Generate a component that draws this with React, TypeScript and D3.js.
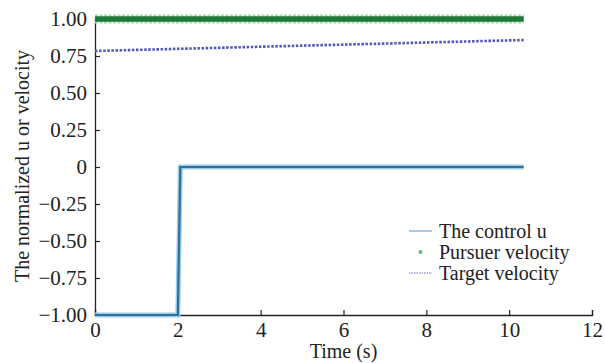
import { useEffect, useRef } from "react";
import * as d3 from "d3";

// control u: bang from -1 to 0 at about t = 2 s
const controlTime = [0, 2.0, 2.06, 10.35];
const controlValue = [-1, -1, 0, 0];

// pursuer velocity stays at its max
const pursuerTime = [0, 10.35];
const pursuerValue = [1, 1];

// target velocity slowly rising
const targetTime = [0, 10.35];
const targetValue = [0.784, 0.858];

const xTicks = [0, 2, 4, 6, 8, 10, 12];
const yTicks = [-1, -0.75, -0.5, -0.25, 0, 0.25, 0.5, 0.75, 1];

const legendLabels = ["The control u", "Pursuer velocity", "Target velocity"];

export default function App() {
  const svgRef = useRef<SVGSVGElement>(null);

  useEffect(() => {
    const svg = d3.select(svgRef.current);
    svg.selectAll("*").remove();

    const margin = { top: 19, right: 13, bottom: 48, left: 95 };
    const width = 605 - margin.left - margin.right;
    const height = 363 - margin.top - margin.bottom;
    const font = "'Liberation Serif', 'Times New Roman', serif";

    const g = svg
      .append("g")
      .attr("transform", `translate(${margin.left},${margin.top})`);

    const x = d3.scaleLinear().domain([0, 12]).range([0, width]);
    const y = d3.scaleLinear().domain([-1, 1]).range([height, 0]);

    const fmtY = (d: number) =>
      d === 0 ? "0" : d3.format(".2f")(d).replace("-", "\u2212");

    // axes
    const xAxis = g
      .append("g")
      .attr("transform", `translate(0,${height})`)
      .call(d3.axisBottom(x).tickValues(xTicks).tickSize(-5).tickPadding(9).tickFormat((d) => `${d}`));
    const yAxis = g
      .append("g")
      .call(d3.axisLeft(y).tickValues(yTicks).tickSize(-5).tickPadding(8).tickFormat((d) => fmtY(+d)));

    [xAxis, yAxis].forEach((a) => {
      a.attr("font-family", font);
      a.select(".domain").attr("stroke", "#222").attr("stroke-width", 1.3);
      a.selectAll(".tick line").attr("stroke", "#222").attr("stroke-width", 1.2);
      a.selectAll(".tick text")
        .attr("fill", "#222")
        .style("font-family", font)
        .style("font-size", "21px");
    });
    xAxis.selectAll(".tick text").attr("dy", "0.6em");

    // axis labels
    g.append("text")
      .attr("x", width / 2)
      .attr("y", height + 43)
      .attr("text-anchor", "middle")
      .attr("fill", "#222")
      .style("font-family", font)
      .style("font-size", "20px")
      .text("Time (s)");

    g.append("text")
      .attr("transform", "rotate(-90)")
      .attr("x", -height / 2 + 1)
      .attr("y", -66)
      .attr("text-anchor", "middle")
      .attr("fill", "#222")
      .style("font-family", font)
      .style("font-size", "20px")
      .text("The normalized u or velocity");

    const path = (t: number[], v: number[]) =>
      d3
        .line<number>()
        .x((d) => x(d))
        .y((_, i) => y(v[i]))(t) as string;

    // pursuer velocity: dense star markers
    g.append("path")
      .attr("d", path(pursuerTime, pursuerValue))
      .attr("fill", "none")
      .attr("stroke", "#a9d6b5")
      .attr("stroke-width", 9)
      .attr("stroke-dasharray", "3,1.5");
    g.append("path")
      .attr("d", path(pursuerTime, pursuerValue))
      .attr("fill", "none")
      .attr("stroke", "#1f7a3a")
      .attr("stroke-width", 5.5);

    // target velocity: dotted
    g.append("path")
      .attr("d", path(targetTime, targetValue))
      .attr("fill", "none")
      .attr("stroke", "#5058b8")
      .attr("stroke-width", 2.6)
      .attr("stroke-dasharray", "2.5,1.6");

    // control u
    g.append("path")
      .attr("d", path(controlTime, controlValue))
      .attr("fill", "none")
      .attr("stroke", "#9ccbe6")
      .attr("stroke-width", 5);
    g.append("path")
      .attr("d", path(controlTime, controlValue))
      .attr("fill", "none")
      .attr("stroke", "#2f6f9c")
      .attr("stroke-width", 2.2);

    // legend
    const leg = svg.append("g").attr("transform", "translate(409,231)");
    legendLabels.forEach((label, i) => {
      const row = leg.append("g").attr("transform", `translate(0,${i * 21})`);
      if (i === 0) {
        row.append("line").attr("x1", 0).attr("x2", 23).attr("stroke", "#8ab8dc").attr("stroke-width", 1.5);
      } else if (i === 1) {
        row.append("circle").attr("cx", 11.5).attr("cy", 0).attr("r", 2).attr("fill", "#6ab580");
      } else {
        row.append("line").attr("x1", 0).attr("x2", 23).attr("stroke", "#9a9fdc").attr("stroke-width", 1.5).attr("stroke-dasharray", "1.5,1");
      }
      row.append("text")
        .attr("x", 30)
        .attr("y", 0)
        .attr("dy", "0.35em")
        .attr("fill", "#222")
        .style("font-family", font)
        .style("font-size", "20px")
        .text(label);
    });
  }, []);

  return (
    <svg
      ref={svgRef}
      width={605}
      height={363}
      style={{ position: "absolute", left: 0, top: 0, background: "#fff" }}
    />
  );
}
